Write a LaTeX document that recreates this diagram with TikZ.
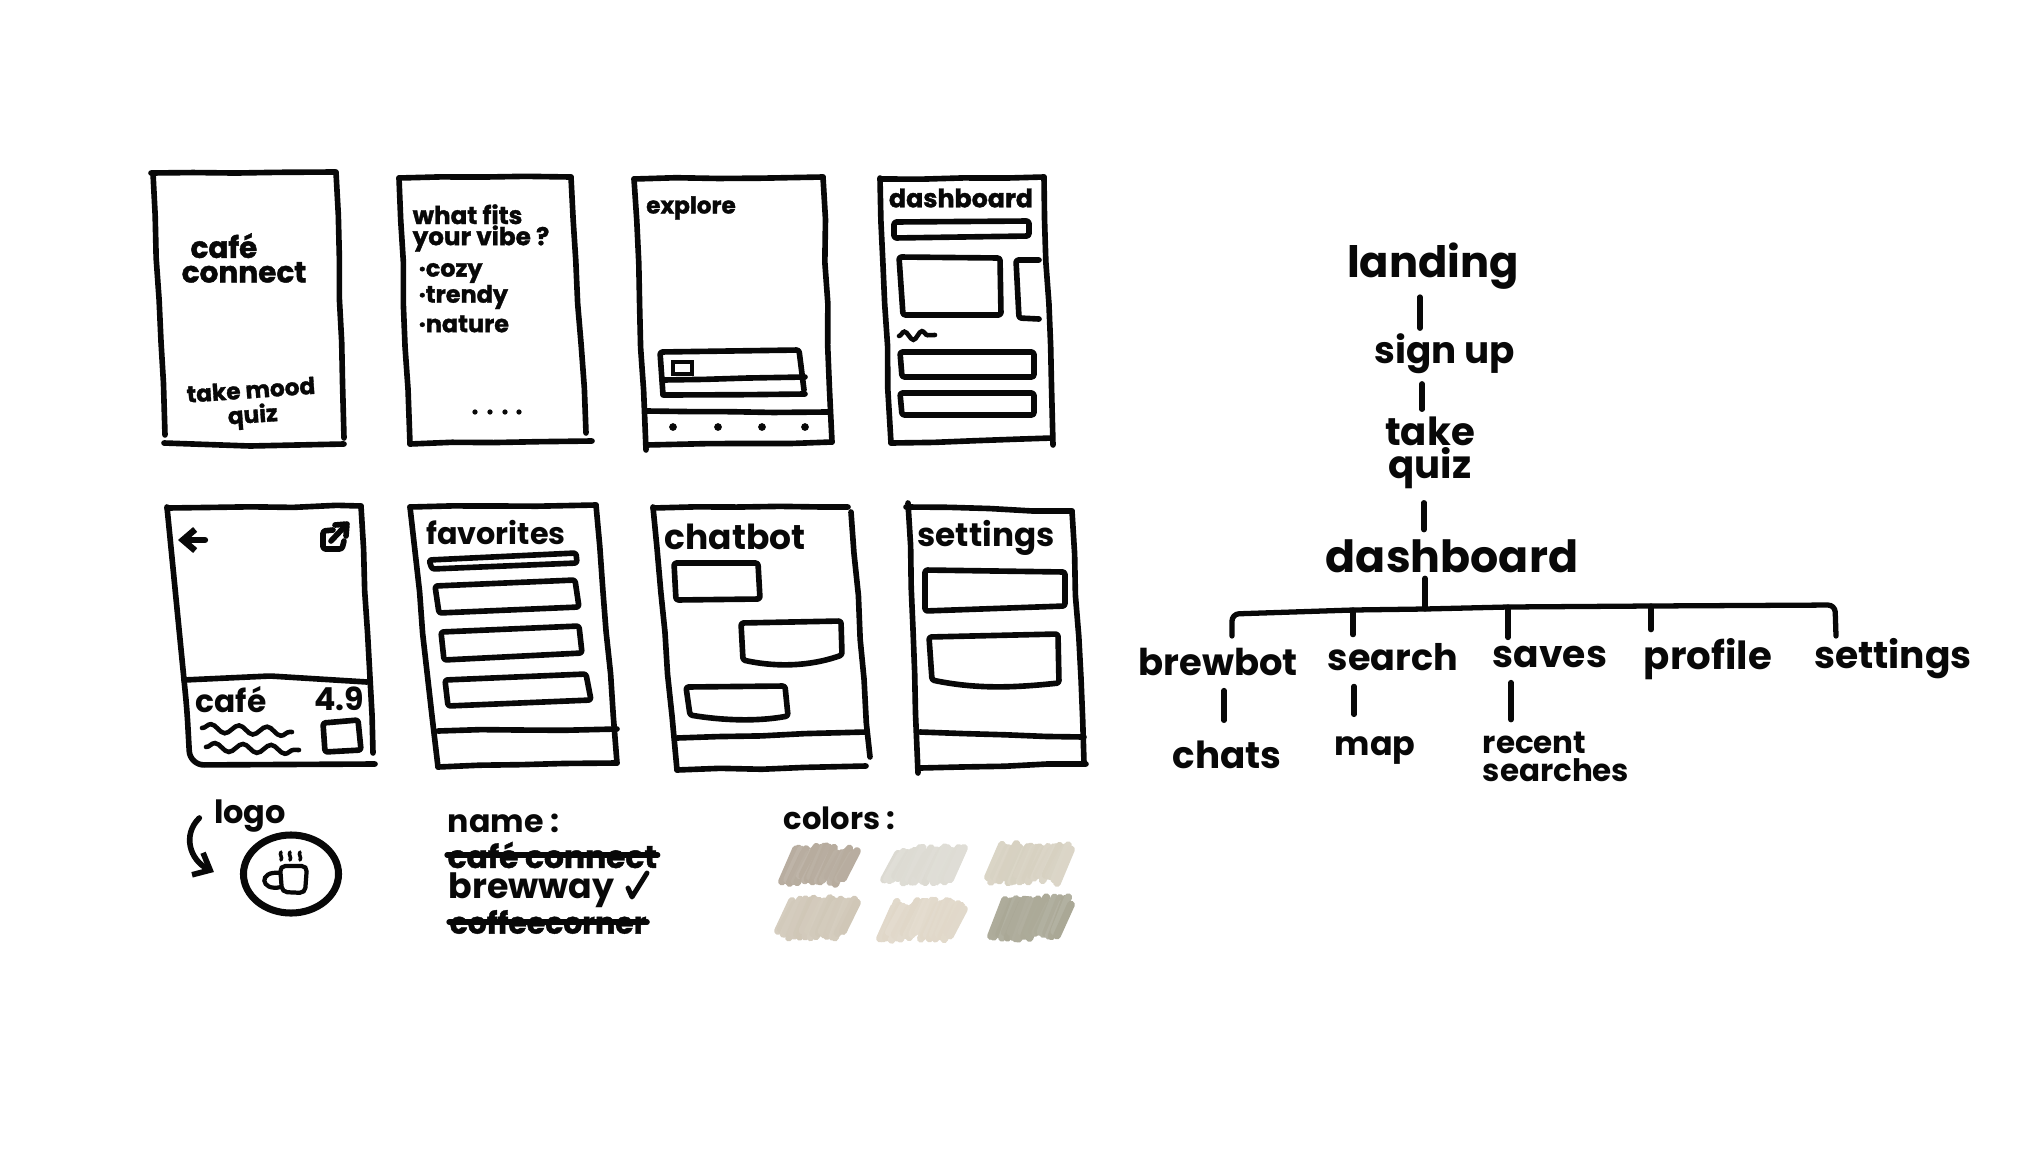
\documentclass[tikz,border=0pt]{standalone}
\usepackage{fontspec}
\setmainfont{Poppins}
\newfontfamily\heavyfont{Poppins}[BoldFeatures={FakeBold=1.4}]
\usetikzlibrary{arrows.meta,shapes.geometric,decorations.pathmorphing}
\definecolor{inkblack}{RGB}{8,8,8}
\definecolor{swatchA}{RGB}{181,170,156}
\definecolor{swatchB}{RGB}{220,218,210}
\definecolor{swatchC}{RGB}{214,208,192}
\definecolor{swatchD}{RGB}{207,198,182}
\definecolor{swatchE}{RGB}{224,215,200}
\definecolor{swatchF}{RGB}{169,167,149}
\tikzset{
  pen/.style={draw=inkblack, line width=1.6pt, line cap=round, line join=round,
        rounded corners=0.7pt},
  wobble/.style={draw=inkblack, line width=1.6pt, line cap=round,
        decorate, decoration={random steps, segment length=12pt, amplitude=0.3pt}},
  wave/.style={draw=inkblack, line width=1.3pt, line cap=round,
        decorate, decoration={snake, segment length=8pt, amplitude=1.2pt}},
  hand/.style 2 args={font=\bfseries\fontsize{#1}{#2}\selectfont, text=inkblack,
        inner sep=0pt, align=center},
  heavy/.style 2 args={font=\heavyfont\bfseries\fontsize{#1}{#2}\selectfont, text=inkblack,
        inner sep=0pt, align=center},
  link/.style={draw=inkblack, line width=1.5pt, line cap=round},
  strike/.style={draw=inkblack, line width=1.5pt, line cap=round}
}
\newcommand{\swatch}[5]{%
  \foreach \i in {0,...,24} {
    \pgfmathsetmacro\jitA{rnd*9}
    \pgfmathsetmacro\jitB{rnd*9}
    \pgfmathsetmacro\tone{int(88+12*rnd)}
    \draw[#5!\tone!white, line width=2.2pt, line cap=round]
      ({#1+4+\i*(#3-22)/24},{#2+#4/2+1-\jitA}) -- ({#1+18+\i*(#3-22)/24},{#2-#4/2-1+\jitB});
  }
}
\begin{document}
\begin{tikzpicture}[x=0.01cm, y=-0.01cm]
  \pgfmathsetseed{7}
  \useasboundingbox (0,0) rectangle (2042,1148);
  % Landing screen
  \draw[wobble] (151,173) -- (335,172);
  \draw[wobble] (336,172) -- (344,438);
  \draw[wobble] (153,173) -- (165,435);
  \draw[pen] (164,443) -- (250,446) -- (344,444);
  \node[heavy={8.4}{7}, align=left] (landingcafe) at (244,258) {\hspace{2.5pt}café\\connect};
  \node[heavy={6.6}{7}, rotate=4] (landingquiz) at (252,405) {take mood\\quiz};
  % Quiz screen
  \draw[wobble] (399,178) -- (571,177);
  \draw[wobble] (571,177) -- (586,433);
  \draw[wobble] (399,178) -- (410,444);
  \draw[wobble] (410,444) -- (592,441);
  \node[heavy={7}{6}, align=left] (quiztitle) at (481,228) {what fits\\your vibe ?};
  \node[heavy={6.8}{6}, anchor=west] (quizcozy) at (418,273) {·cozy};
  \node[heavy={6.8}{6}, anchor=west] (quiztrendy) at (418,297) {·trendy};
  \node[heavy={6.8}{6}, anchor=west] (quiznature) at (418,324) {·nature};
  \foreach \x in {475,490,505,519}
    \fill[inkblack] (\x,412) circle (0.75pt);
  % Explore screen
  \draw[wobble] (634,179) -- (823,177);
  \draw[wobble] (823,177) -- (832,442);
  \draw[wobble] (832,442) -- (646,445);
  \draw[wobble] (634,179) -- (646,450);
  \draw[wobble] (647,411) -- (828,412);
  \draw[pen] (663,395) -- (660,352) -- (799,350) -- (804,390);
  \draw[wobble] (663,380) -- (805,377);
  \draw[wobble] (664,395) -- (805,394);
  \draw[draw=inkblack, line width=1.2pt] (673,362) rectangle (692,374);
  \node[heavy={6.6}{7}] (exploretitle) at (691,208) {explore};
  \foreach \x in {673,718,762,805}
    \fill[inkblack] (\x,427) circle (1.1pt);
  % Dashboard screen
  \draw[wobble] (880,179) -- (1044,177);
  \draw[wobble] (1044,177) -- (1053,445);
  \draw[wobble] (880,178) -- (891,443);
  \draw[wobble] (891,443) -- (1052,438);
  \draw[pen] (894,222) -- (1029,221) -- (1029,236) -- (894,238) -- cycle;
  \draw[pen] (899,257) -- (1000,258) -- (1001,315) -- (903,315) -- cycle;
  \draw[pen] (1039,260) -- (1016,260) -- (1019,318) -- (1039,319);
  \draw[wave, decoration={segment length=5pt}] (899,336) -- (935,335);
  \draw[pen] (900,352) -- (1034,352) -- (1034,377) -- (902,377) -- cycle;
  \draw[pen] (900,393) -- (1034,393) -- (1034,415) -- (902,415) -- cycle;
  \node[heavy={7.2}{7}] (dashtitle) at (961,198) {dashboard};
  % Cafe detail screen
  \draw[wobble] (167,508) -- (361,506);
  \draw[wobble] (361,506) -- (373,753);
  \draw[pen, rounded corners=4pt] (167,507) -- (187,710) -- (190,765) -- (375,764);
  \draw[pen] (184,680) -- (270,676) -- (367,682);
  \draw[draw=inkblack, line width=1.8pt, line cap=round, -{Straight Barb[length=3.5pt,width=6pt]}]
    (205,540) -- (178,540);
  \draw[pen] (333,530) -- (323,531) -- (323,549) -- (342,549) -- (344,541);
  \draw[pen] (331,541) -- (347,524);
  \draw[pen] (335,525) -- (347,524) -- (346,536);
  \node[hand={8.9}{9}] (detailcafe) at (231,700) {café};
  \node[hand={9}{9}] (detailrating) at (339,699) {4.9};
  \draw[wave] (202,728) -- (292,732);
  \draw[wave] (206,747) -- (299,750);
  \draw[pen] (323,723) -- (358,720) -- (361,750) -- (325,752) -- cycle;
  % Favorites screen
  \draw[wobble] (410,507) -- (596,505);
  \draw[wobble] (596,505) -- (617,763);
  \draw[wobble] (410,507) -- (438,767);
  \draw[wobble] (438,767) -- (617,763);
  \draw[wobble] (438,731) -- (617,729);
  \node[hand={8.6}{9}] (favtitle) at (496,532) {favorites};
  \draw[pen] (429,560) -- (576,553) -- (577,563) -- (432,569) -- cycle;
  \draw[pen] (435,586) -- (575,580) -- (579,607) -- (439,613) -- cycle;
  \draw[pen] (441,632) -- (579,626) -- (582,653) -- (444,660) -- cycle;
  \draw[pen] (445,680) -- (586,674) -- (591,700) -- (448,706) -- cycle;
  % Chatbot screen
  \draw[wobble] (653,508) -- (848,507);
  \draw[wobble] (851,512) -- (870,757);
  \draw[wobble] (653,507) -- (677,770);
  \draw[wobble] (677,770) -- (866,766);
  \draw[wobble] (677,738) -- (866,732);
  \node[hand={9.8}{10}] (chattitle) at (735,537) {chatbot};
  \draw[pen] (674,563) -- (758,563) -- (760,599) -- (676,600) -- cycle;
  \draw[pen] (741,623) -- (841,621) -- (842,655) .. controls (805,668) and (770,666) .. (743,660) -- cycle;
  \draw[pen] (686,687) -- (785,686) -- (788,716) .. controls (755,722) and (720,720) .. (690,715) -- cycle;
  % Settings screen
  \draw[wobble] (908,503) -- (918,773);
  \draw[wobble] (906,507) -- (1072,511);
  \draw[wobble] (1072,511) -- (1084,763);
  \draw[wobble] (920,732) -- (1084,737);
  \draw[wobble] (920,768) -- (1086,764);
  \node[hand={9.3}{10}] (settingstitle) at (986,538) {settings};
  \draw[pen] (925,570) -- (1065,572) -- (1065,606) -- (925,611) -- cycle;
  \draw[pen] (929,637) -- (1058,634) -- (1059,683) .. controls (1020,687) and (980,690) .. (932,680) -- cycle;
  % Logo
  \node[hand={9.1}{9}] (logolabel) at (250,816) {logo};
  \node[ellipse, draw=inkblack, line width=2pt, minimum width=0.95cm, minimum height=0.78cm,
        inner sep=0pt] (logomark) at (291,874) {};
  \draw[draw=inkblack, line width=1.6pt, line cap=round, -{Straight Barb[length=4pt,width=7pt]}]
    ([shift={(-14,2)}]logolabel.west) .. controls (182,835) and (190,860) .. ([shift={(-26,-2)}]logomark.west);
  \draw[draw=inkblack, line width=1.2pt, rounded corners=1.5pt] (280,866) -- (282,892) -- (305,893) -- (307,866) -- cycle;
  \draw[draw=inkblack, line width=1.2pt] (280,873) .. controls (258,870) and (260,892) .. (281,887);
  \foreach \x in {281,290,300}
    \draw[draw=inkblack, line width=1pt, line cap=round] (\x,852) .. controls (\x-2,855) and (\x+2,857) .. (\x,860);
  % Name ideas
  \node[hand={9}{9}, anchor=west] (namelabel) at (447,823) {name :};
  \node[heavy={8.9}{9}, anchor=west] (namecafe) at (447,855) {café connect};
  \draw[strike] (namecafe.west) -- (namecafe.east);
  \node[hand={9.9}{10}, anchor=west] (namebrew) at (448,890) {brewway};
  \draw[draw=inkblack, line width=1.4pt, line cap=round, line join=round]
    (628,888) -- (632,897) -- (647,873);
  \node[heavy={8.5}{9}, anchor=west] (namecoffee) at (449,922) {coffeecorner};
  \draw[strike] (namecoffee.west) -- (namecoffee.east);
  % Colors
  \node[hand={8.7}{9}, anchor=west] (colorlabel) at (783,818) {colors :};
  \swatch{778}{865}{83}{36}{swatchA}
  \swatch{880}{865}{88}{34}{swatchB}
  \swatch{984}{863}{91}{38}{swatchC}
  \swatch{774}{918}{87}{38}{swatchD}
  \swatch{876}{920}{92}{38}{swatchE}
  \swatch{987}{918}{88}{40}{swatchF}
  % Site map
  \node[hand={12.3}{12}] (landing) at (1433,266) {landing};
  \node[hand={10.6}{11}] (signup) at (1445,354) {sign up};
  \node[hand={11}{9.4}] (takequiz) at (1430,453) {take\\quiz};
  \node[hand={12.6}{13}] (dashboard) at (1452,556) {dashboard};
  \node[hand={10.5}{11}] (brewbot) at (1218,662) {brewbot};
  \node[hand={10.4}{11}] (search) at (1393,657) {search};
  \node[hand={10.7}{11}] (saves) at (1550,657) {saves};
  \node[hand={11}{11}] (profile) at (1708,659) {profile};
  \node[hand={10.7}{11}] (settings) at (1893,659) {settings};
  \node[hand={10.6}{11}] (chats) at (1227,755) {chats};
  \node[hand={9.5}{10}] (map) at (1375,750) {map};
  \node[hand={8.8}{7.8}, align=left] (recent) at (1556,757) {recent\\searches};
  \coordinate (barbrewbot) at (1232,614);
  \coordinate (barsearch) at (1353,610);
  \coordinate (barhub) at (1425,609);
  \coordinate (barsaves) at (1508,607);
  \coordinate (barprofile) at (1651,606);
  \coordinate (barsettings) at (1835,605);
  \draw[link] ([shift={(-13,7)}]landing.south) -- ([shift={(-25,-5)}]signup.north);
  \draw[link] ([shift={(-23,9)}]signup.south) -- ([shift={(-8,-7)}]takequiz.north);
  \draw[link] ([shift={(-6,13)}]takequiz.south) -- ([shift={(-28,-9)}]dashboard.north);
  \draw[link] ([shift={(-27,5)}]dashboard.south) -- (barhub);
  \draw[link, rounded corners=2pt] (1232,636) -- (barbrewbot) -- (barsearch) -- (barhub) -- (barsaves) -- (barprofile) -- (barsettings) -- (1836,636);
  \draw[link] (barsearch) -- ([shift={(-40,-8)}]search.north);
  \draw[link] (barsaves) -- ([shift={(-42,-8)}]saves.north);
  \draw[link] (barprofile) -- ([shift={(-57,-8)}]profile.north);
  \draw[link] ([shift={(6,14)}]brewbot.south) -- ([shift={(-3,-20)}]chats.north);
  \draw[link] ([shift={(-39,15)}]search.south) -- ([shift={(-21,-21)}]map.north);
  \draw[link] ([shift={(-39,14)}]saves.south) -- ([shift={(-45,-12)}]recent.north);
\end{tikzpicture}
\end{document}
